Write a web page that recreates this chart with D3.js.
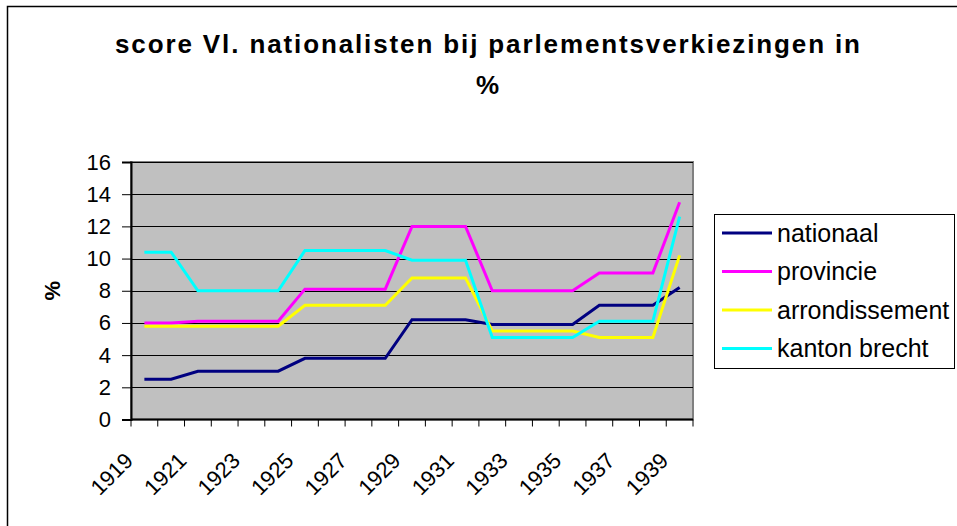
<!DOCTYPE html>
<html>
<head>
<meta charset="utf-8">
<script src="https://cdn.jsdelivr.net/npm/d3@7"></script>
<style>
    body { margin: 0; background: #fff; }
    svg { display: block; font-family: "Liberation Sans", Arial, sans-serif; }
</style>
</head>
<body>
<div id="chart"></div>
<script>
// years on the category axis
var years = [1919, 1920, 1921, 1922, 1923, 1924, 1925, 1926, 1927, 1928, 1929,
    1930, 1931, 1932, 1933, 1934, 1935, 1936, 1937, 1938, 1939];

// score per level (%)
var nationaal = [2.5, 2.5, 3.0, 3.0, 3.0, 3.0, 3.8, 3.8, 3.8, 3.8, 6.2,
    6.2, 6.2, 5.9, 5.9, 5.9, 5.9, 7.1, 7.1, 7.1, 8.2];
var provincie = [6.0, 6.0, 6.1, 6.1, 6.1, 6.1, 8.1, 8.1, 8.1, 8.1, 12.0,
    12.0, 12.0, 8.0, 8.0, 8.0, 8.0, 9.1, 9.1, 9.1, 13.5];
var arrondissement = [5.8, 5.8, 5.8, 5.8, 5.8, 5.8, 7.1, 7.1, 7.1, 7.1, 8.8,
    8.8, 8.8, 5.5, 5.5, 5.5, 5.5, 5.1, 5.1, 5.1, 10.2];
var kantonBrecht = [10.4, 10.4, 8.0, 8.0, 8.0, 8.0, 10.5, 10.5, 10.5, 10.5, 9.9,
    9.9, 9.9, 5.1, 5.1, 5.1, 5.1, 6.1, 6.1, 6.1, 12.6];

var seriesNames = ["nationaal", "provincie", "arrondissement", "kanton brecht"];
var seriesColors = ["#000080", "#FF00FF", "#FFFF00", "#00FFFF"];
var yTicks = [0, 2, 4, 6, 8, 10, 12, 14, 16];
var xLabelYears = [1919, 1921, 1923, 1925, 1927, 1929, 1931, 1933, 1935, 1937, 1939];

var series = [nationaal, provincie, arrondissement, kantonBrecht].map(function (vals, i) {
    return { name: seriesNames[i], color: seriesColors[i], values: vals };
});

var W = 957, H = 526;
var plot = { left: 131, top: 162, right: 693, bottom: 419.5 };

var svg = d3.select("#chart").append("svg")
    .attr("width", W)
    .attr("height", H);

svg.append("rect").attr("width", W).attr("height", H).attr("fill", "#fff");

// outer chart frame (only left and top visible in the picture)
svg.append("path")
    .attr("d", "M7.5," + H + "V6.5H" + W)
    .attr("fill", "none")
    .attr("stroke", "#000")
    .attr("stroke-width", 1.5);

var x = d3.scaleBand()
    .domain(years)
    .range([plot.left, plot.right]);

var y = d3.scaleLinear()
    .domain([0, 16])
    .range([plot.bottom, plot.top]);

// plot area
svg.append("rect")
    .attr("x", plot.left)
    .attr("y", plot.top)
    .attr("width", plot.right - plot.left)
    .attr("height", plot.bottom - plot.top)
    .attr("fill", "#C0C0C0")
    .attr("stroke", "#808080")
    .attr("stroke-width", 2);

// horizontal gridlines
svg.append("g")
    .selectAll("line")
    .data(yTicks.slice(1))
    .enter().append("line")
    .attr("x1", plot.left)
    .attr("x2", plot.right)
    .attr("y1", function (d) { return Math.round(y(d)) + 0.5; })
    .attr("y2", function (d) { return Math.round(y(d)) + 0.5; })
    .attr("stroke", "#000")
    .attr("stroke-width", 1);

// y axis
var yAxis = svg.append("g")
    .attr("transform", "translate(" + plot.left + ",0)")
    .call(d3.axisLeft(y).tickValues(yTicks).tickSize(9).tickPadding(11));
yAxis.select(".domain").attr("stroke", "#000").attr("stroke-width", 2);
yAxis.selectAll(".tick line").attr("stroke", "#000");
yAxis.selectAll("text")
    .attr("font-size", 22)
    .attr("fill", "#000")
    .attr("font-family", "Liberation Sans, Arial, sans-serif");

// x axis: ticks sit between categories
var boundaries = d3.range(years.length + 1).map(function (i) {
    return plot.left + i * x.step();
});
var xg = svg.append("g");
xg.append("line")
    .attr("x1", plot.left).attr("x2", plot.right)
    .attr("y1", plot.bottom).attr("y2", plot.bottom)
    .attr("stroke", "#000").attr("stroke-width", 2);
xg.selectAll("line.tick")
    .data(boundaries)
    .enter().append("line")
    .attr("class", "tick")
    .attr("x1", function (d) { return d; })
    .attr("x2", function (d) { return d; })
    .attr("y1", plot.bottom)
    .attr("y2", plot.bottom + 7)
    .attr("stroke", "#000");

xg.selectAll("text")
    .data(xLabelYears)
    .enter().append("text")
    .attr("transform", function (d) {
        var cx = x(d) + x.bandwidth() / 2;
        return "translate(" + (cx - 10) + "," + 462 + ") rotate(-45)";
    })
    .attr("text-anchor", "end")
    .attr("font-size", 22)
    .text(function (d) { return d; });

// lines
var line = d3.line()
    .x(function (d, i) { return x(years[i]) + x.bandwidth() / 2; })
    .y(function (d) { return y(d); });

svg.append("g")
    .selectAll("path")
    .data(series)
    .enter().append("path")
    .attr("d", function (s) { return line(s.values); })
    .attr("fill", "none")
    .attr("stroke", function (s) { return s.color; })
    .attr("stroke-width", 3)
    .attr("stroke-linejoin", "miter");

// title
svg.append("text")
    .attr("x", 487.5)
    .attr("y", 53)
    .attr("text-anchor", "middle")
    .attr("font-size", 26)
    .attr("font-weight", "bold")
    .attr("textLength", 745)
    .attr("lengthAdjust", "spacing")
    .text("score Vl. nationalisten bij parlementsverkiezingen in");
svg.append("text")
    .attr("x", 487.5)
    .attr("y", 94)
    .attr("text-anchor", "middle")
    .attr("font-size", 26)
    .attr("font-weight", "bold")
    .text("%");

// y axis title
svg.append("text")
    .attr("transform", "translate(52," + ((plot.top + plot.bottom) / 2) + ") rotate(-90)")
    .attr("text-anchor", "middle")
    .attr("dy", "0.35em")
    .attr("font-size", 22)
    .attr("font-weight", "bold")
    .text("%");

// legend
var legend = svg.append("g");
legend.append("rect")
    .attr("x", 714.5)
    .attr("y", 214.5)
    .attr("width", 240)
    .attr("height", 154)
    .attr("fill", "#fff")
    .attr("stroke", "#000")
    .attr("stroke-width", 1);

var rows = legend.selectAll("g")
    .data(series)
    .enter().append("g")
    .attr("transform", function (d, i) { return "translate(0," + (233 + i * 38.5) + ")"; });
rows.append("line")
    .attr("x1", 722).attr("x2", 772)
    .attr("stroke", function (d) { return d.color; })
    .attr("stroke-width", 3);
rows.append("text")
    .attr("x", 777)
    .attr("dy", "0.35em")
    .attr("font-size", 25)
    .text(function (d) { return d.name; });
</script>
</body>
</html>
